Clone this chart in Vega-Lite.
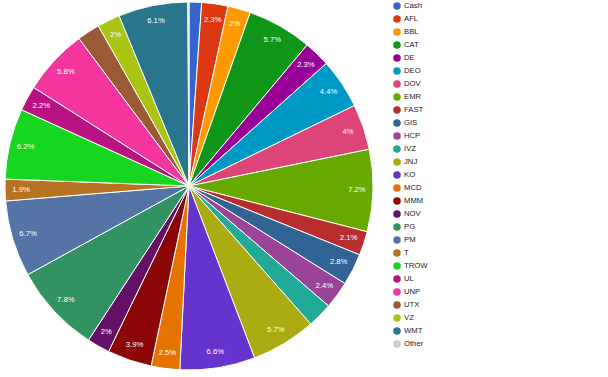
{
  "$schema": "https://vega.github.io/schema/vega-lite/v6.json",
  "width": 378,
  "height": 372,
  "autosize": {"type": "none"},
  "padding": {"left": 0, "top": 0, "right": 230, "bottom": 5},
  "background": "white",
  "config": {"view": {"stroke": null}, "font": "Liberation Sans"},
  "data": {
    "values": [
      {"idx": 1, "ticker": "Cash", "share": 0.011},
      {"idx": 2, "ticker": "AFL", "share": 0.023},
      {"idx": 3, "ticker": "BBL", "share": 0.02},
      {"idx": 4, "ticker": "CAT", "share": 0.057},
      {"idx": 5, "ticker": "DE", "share": 0.023},
      {"idx": 6, "ticker": "DEO", "share": 0.044},
      {"idx": 7, "ticker": "DOV", "share": 0.04},
      {"idx": 8, "ticker": "EMR", "share": 0.072},
      {"idx": 9, "ticker": "FAST", "share": 0.021},
      {"idx": 10, "ticker": "GIS", "share": 0.028},
      {"idx": 11, "ticker": "HCP", "share": 0.024},
      {"idx": 12, "ticker": "IVZ", "share": 0.022},
      {"idx": 13, "ticker": "JNJ", "share": 0.057},
      {"idx": 14, "ticker": "KO", "share": 0.066},
      {"idx": 15, "ticker": "MCD", "share": 0.025},
      {"idx": 16, "ticker": "MMM", "share": 0.039},
      {"idx": 17, "ticker": "NOV", "share": 0.02},
      {"idx": 18, "ticker": "PG", "share": 0.078},
      {"idx": 19, "ticker": "PM", "share": 0.067},
      {"idx": 20, "ticker": "T", "share": 0.019},
      {"idx": 21, "ticker": "TROW", "share": 0.062},
      {"idx": 22, "ticker": "UL", "share": 0.022},
      {"idx": 23, "ticker": "UNP", "share": 0.058},
      {"idx": 24, "ticker": "UTX", "share": 0.02},
      {"idx": 25, "ticker": "VZ", "share": 0.02},
      {"idx": 26, "ticker": "WMT", "share": 0.061},
      {"idx": 27, "ticker": "Other", "share": 0.001}
    ]
  },
  "encoding": {
    "theta": {"field": "share", "type": "quantitative", "stack": true},
    "order": {"field": "idx", "type": "quantitative", "sort": "ascending"}
  },
  "layer": [
    {
      "mark": {"type": "arc", "radius": 184, "stroke": "white", "strokeWidth": 1},
      "encoding": {
        "color": {
          "field": "ticker",
          "type": "nominal",
          "sort": ["Cash","AFL","BBL","CAT","DE","DEO","DOV","EMR","FAST","GIS","HCP","IVZ","JNJ","KO","MCD","MMM","NOV","PG","PM","T","TROW","UL","UNP","UTX","VZ","WMT","Other"],
          "scale": {
            "domain": ["Cash","AFL","BBL","CAT","DE","DEO","DOV","EMR","FAST","GIS","HCP","IVZ","JNJ","KO","MCD","MMM","NOV","PG","PM","T","TROW","UL","UNP","UTX","VZ","WMT","Other"],
            "range": ["#3366cc","#dc3912","#ff9900","#109618","#990099","#0099c6","#dd4477","#66aa00","#b82e2e","#316395","#994499","#22aa99","#aaaa11","#6633cc","#e67300","#8b0707","#651067","#329262","#5574a6","#b77322","#16d620","#b91383","#f4359e","#9c5935","#a9c413","#2a778d","#cccccc"]
          },
          "legend": {
            "title": null,
            "orient": "none",
            "legendX": 393,
            "legendY": 2,
            "symbolType": "circle",
            "symbolSize": 56,
            "symbolStrokeWidth": 0,
            "symbolOpacity": 1,
            "labelFontSize": 7.7,
            "labelColor": "#222222",
            "labelFont": "Liberation Sans",
            "labelOffset": 3,
            "rowPadding": 5,
            "padding": 0
          }
        }
      }
    },
    {
      "mark": {"type": "text", "radius": 168, "fill": "white", "fontSize": 7.7, "font": "Liberation Sans"},
      "encoding": {
        "detail": {"field": "ticker", "type": "nominal"},
        "text": {"field": "share", "type": "quantitative", "format": ".1~%"},
        "opacity": {
          "condition": {"test": "indexof(['Cash','IVZ','UTX','Other'], datum.ticker) >= 0", "value": 0},
          "value": 1
        }
      }
    }
  ]
}
